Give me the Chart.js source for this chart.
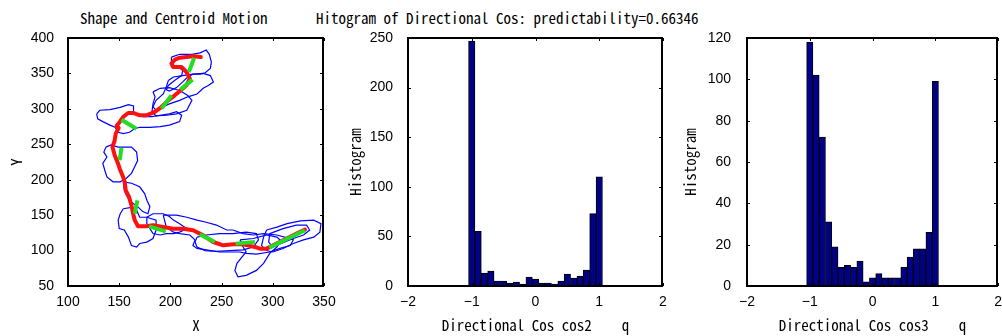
<!DOCTYPE html>
<html>
<head>
<meta charset="utf-8">
<script src="https://cdn.jsdelivr.net/npm/chart.js@4.4.0/dist/chart.umd.min.js"></script>
<style>
  body { margin: 0; background: #fff; width: 1002px; height: 336px; position: relative; overflow: hidden; }
  canvas { position: absolute; top: 0; }
  .ttl { position: absolute; top: 9px; font: 15px 'Noto Sans Mono CJK JP', 'DejaVu Sans Mono', monospace; white-space: pre; color: #000; line-height: 18px; }
</style>
</head>
<body>
<div class="ttl" style="left:80px">Shape and Centroid Motion</div>
<div class="ttl" style="left:316px">Hitogram of Directional Cos: predictability=0.66346</div>
<canvas id="shape" width="340" height="336" style="left:0"></canvas>
<canvas id="cos2" width="330" height="336" style="left:340px"></canvas>
<canvas id="cos3" width="332" height="336" style="left:670px"></canvas>
<script>
// cell outlines (x, y)
const outline1 = [[201,373],[209,377],[221,377],[229,379],[235,383],[238,377],[240,366],[239,357],[234,351],[229,349],[222,349],[217,345],[212,338],[206,330],[199,325],[196,327],[198,333],[204,340],[211,347],[212,354],[208,359],[203,361],[201,366],[201,373]];
const outline2 = [[198,340],[203,345],[212,347],[222,349],[232,350],[239,347],[242,338],[237,333],[232,329],[226,321],[217,317],[209,312],[199,307],[193,303],[186,298],[183,303],[186,312],[193,321],[196,331],[198,340]];
const outline3 = [[183,324],[190,329],[199,330],[209,326],[217,319],[221,312],[216,298],[206,293],[196,291],[186,290],[182,296],[183,307],[185,317],[183,324]];
const outline4 = [[128,293],[131,298],[141,299],[151,302],[159,306],[164,304],[164,293],[168,291],[173,289],[182,289],[190,291],[199,293],[206,296],[211,291],[209,282],[199,277],[190,275],[180,274],[170,274],[165,272],[160,267],[154,265],[149,267],[146,274],[141,277],[134,282],[129,286],[128,293]];
const outline5 = [[137,246],[142,249],[149,246],[154,246],[162,246],[167,239],[168,227],[165,218],[162,209],[157,202],[151,197],[144,197],[138,204],[136,213],[134,223],[138,232],[135,239],[137,246]];
const outline6 = [[154,197],[162,195],[170,190],[175,180],[177,171],[180,162],[178,152],[173,155],[168,162],[164,166],[160,171],[157,178],[155,185],[154,197]];
const outline7 = [[154,159],[162,161],[167,157],[170,147],[177,147],[186,143],[186,129],[183,117],[177,112],[170,110],[167,105],[162,107],[159,119],[155,129],[150,131],[149,143],[151,152],[154,159]];
const outline8 = [[177,147],[183,152],[193,152],[199,148],[203,143],[209,138],[216,131],[209,126],[203,124],[196,124],[190,122],[183,124],[180,131],[177,138],[177,147]];
const outline9 = [[193,150],[206,150],[216,147],[226,143],[235,140],[245,136],[255,129],[261,129],[271,124],[281,122],[291,124],[304,122],[314,118],[320,115],[317,107],[307,103],[297,98],[284,95],[274,96],[268,98],[258,98],[248,98],[235,101],[226,103],[222,107],[224,115],[219,122],[209,124],[203,126],[196,133],[193,150]];
const outline10 = [[268,115],[281,117],[294,122],[304,119],[307,115],[304,105],[297,96],[291,82],[284,72],[274,65],[266,63],[263,72],[265,82],[270,91],[274,98],[271,105],[268,115]];
const outline11 = [[294,129],[304,133],[314,138],[327,142],[340,143],[347,138],[346,126],[340,119],[330,115],[320,110],[310,103],[300,98],[294,100],[289,107],[291,119],[294,129]];
const outline12 = [[297,124],[310,131],[323,136],[333,136],[336,129],[330,122],[320,117],[310,111],[300,105],[296,112],[297,124]];
const outline13 = [[226,119],[235,122],[248,124],[261,124],[274,126],[284,124],[286,115],[281,105],[271,101],[258,100],[245,99],[234,100],[226,105],[224,112],[226,119]];
const outlines = [outline1, outline2, outline3, outline4, outline5, outline6, outline7, outline8, outline9, outline10, outline11, outline12, outline13];

// centroid track
const centroidPath = [[229.7,373.2],[222.2,374.1],[209.2,372.2],[204.3,369.4],[201.0,363.8],[202.7,359.1],[210.8,359.1],[215.7,352.0],[219.0,342.6],[215.7,333.2],[210.8,327.1],[204.3,319.1],[197.8,312.0],[191.3,302.6],[184.7,295.6],[176.6,290.9],[170.1,290.9],[163.6,294.2],[158.7,294.2],[153.8,288.5],[150.5,281.5],[147.5,276.0],[149.5,273.0],[146.6,265.0],[145.6,255.6],[143.4,246.2],[145.6,234.4],[148.9,222.7],[150.5,215.6],[153.8,203.9],[155.4,196.8],[156.4,185.0],[159.6,175.6],[161.9,163.9],[163.6,152.1],[165.2,142.7],[168.4,134.2],[176.6,134.2],[183.1,135.6],[192.9,133.3],[202.7,130.9],[212.5,130.9],[222.2,128.6],[232.0,121.5],[241.8,112.1],[251.6,107.4],[261.3,108.8],[271.1,108.8],[282.5,105.1],[287.4,102.7],[293.9,102.7],[303.7,109.8],[313.5,116.8],[323.3,123.9],[331.4,129.5]];

// sampled motion vectors
const motionSegments = [
  [[223.2,372.2],[218.0,352.0]],
  [[221.6,341.2],[209.8,327.1]],
  [[201.0,319.1],[191.3,300.3]],
  [[152.2,284.7],[166.8,272.0]],
  [[152.2,245.2],[150.5,227.4]],
  [[167.8,170.9],[165.2,152.1]],
  [[179.2,134.2],[195.5,127.2]],
  [[228.7,122.9],[243.4,112.1]],
  [[263.6,109.8],[282.5,112.1]],
  [[296.5,104.1],[331.4,128.6]]
];

// histograms
const binCenters = [-1.0,-0.9,-0.8,-0.7,-0.6,-0.5,-0.4,-0.3,-0.2,-0.1,0.0,0.1,0.2,0.3,0.4,0.5,0.6,0.7,0.8,0.9,1.0];
const countsCos2 = [247,55,13,15,5,5,3,4,2,9,7,3,3,2,5,12,8,10,16,73,110];
const countsCos3 = [118,102,72,31,19,9,10,9,12,2,4,6,4,4,4,9,14,18,18,26,99];

const monoFont = "'Noto Sans Mono CJK JP', 'DejaVu Sans Mono', monospace";
const tickFont = { family: "'Liberation Sans', Arial, sans-serif", size: 14 };

const toXY = pts => pts.map(p => ({ x: p[0], y: p[1] }));
const minusFmt = v => (v < 0 ? '\u2212' + Math.abs(v) : String(v));

// box round the plot area with short ticks pointing in, on all four sides
const frameTicks = {
  id: 'frameTicks',
  afterDraw(chart) {
    const { ctx, chartArea: a, scales: { x, y } } = chart;
    const L = Math.round(a.left), R = Math.round(a.right) - 1, T = Math.round(a.top), B = Math.round(a.bottom);
    ctx.save();
    ctx.strokeStyle = '#000';
    ctx.lineWidth = 1;
    ctx.beginPath();
    x.ticks.forEach(t => {
      const px = Math.round(x.getPixelForValue(t.value)) + 0.5;
      ctx.moveTo(px, B); ctx.lineTo(px, B - 3);
      ctx.moveTo(px, T); ctx.lineTo(px, T + 3);
    });
    y.ticks.forEach(t => {
      const py = Math.round(y.getPixelForValue(t.value)) + 0.5;
      ctx.moveTo(L, py); ctx.lineTo(L + 3, py);
      ctx.moveTo(R, py); ctx.lineTo(R - 3, py);
    });
    ctx.stroke();
    ctx.lineWidth = 2;
    ctx.strokeRect(L, T, R - L, B - T);
    ctx.restore();
  }
};

function axes(xMin, xMax, xStep, yMin, yMax, yStep, xTitle, yTitle, yWidth, yTickPad, yTitlePad) {
  return {
    x: {
      type: 'linear', min: xMin, max: xMax, offset: false,
      afterFit: s => { s.height = 50; },
      grid: { display: false, offset: false },
      border: { display: false },
      ticks: { stepSize: xStep, padding: 0, color: '#000', font: tickFont, maxRotation: 0, callback: minusFmt },
      title: { display: true, text: xTitle, color: '#000', font: { family: monoFont, size: 15 }, padding: { top: 0, bottom: 2 } }
    },
    y: {
      type: 'linear', min: yMin, max: yMax,
      afterFit: s => { s.width = yWidth; },
      grid: { display: false },
      border: { display: false },
      ticks: { stepSize: yStep, padding: yTickPad, color: '#000', font: tickFont, callback: minusFmt },
      title: { display: true, text: yTitle, color: '#000', font: { family: monoFont, size: 15 }, padding: { top: yTitlePad, bottom: 0 } }
    }
  };
}

const common = {
  responsive: false,
  animation: false,
  events: [],
  plugins: { legend: { display: false }, tooltip: { enabled: false } }
};

// left: shapes and centroid motion
const shapeSets = [];
motionSegments.forEach(seg => shapeSets.push({
  data: toXY(seg), showLine: true, borderColor: '#22dd22', borderWidth: 4,
  pointRadius: 0, tension: 0, borderCapStyle: 'butt', order: 0
}));
shapeSets.push({
  data: toXY(centroidPath), showLine: true, borderColor: '#ff1010', borderWidth: 4,
  pointRadius: 0, tension: 0, borderJoinStyle: 'round', borderCapStyle: 'round', order: 1
});
outlines.forEach(o => shapeSets.push({
  data: toXY(o), showLine: true, borderColor: '#0000ff', borderWidth: 1.2,
  pointRadius: 0, tension: 0, order: 2
}));

new Chart(document.getElementById('shape'), {
  type: 'scatter',
  data: { datasets: shapeSets },
  options: Object.assign({}, common, {
    layout: { autoPadding: false, padding: { left: 0, right: 16, top: 38, bottom: 0 } },
    scales: axes(100, 350, 50, 50, 400, 50, 'X', 'Y', 68, 6, 7)
  }),
  plugins: [frameTicks]
});

function histogram(id, counts, yMax, yStep, xTitle, yWidth, rightPad, yTickPad, yTitlePad) {
  new Chart(document.getElementById(id), {
    type: 'bar',
    data: {
      datasets: [{
        data: binCenters.map((c, i) => ({ x: c, y: counts[i] })),
        backgroundColor: '#000088', borderColor: '#000', borderWidth: 1,
        barPercentage: 1, categoryPercentage: 1
      }]
    },
    options: Object.assign({}, common, {
      layout: { autoPadding: false, padding: { left: 0, right: rightPad, top: 38, bottom: 0 } },
      scales: axes(-2, 2, 1, 0, yMax, yStep, xTitle, 'Histogram', yWidth, yTickPad, yTitlePad)
    }),
    plugins: [frameTicks]
  });
}

histogram('cos2', countsCos2, 250, 50, 'Directional Cos cos2    q', 68, 7, 7, 6);
histogram('cos3', countsCos3, 120, 20, 'Directional Cos cos3    q', 77, 0, 8, 11);
</script>
</body>
</html>
